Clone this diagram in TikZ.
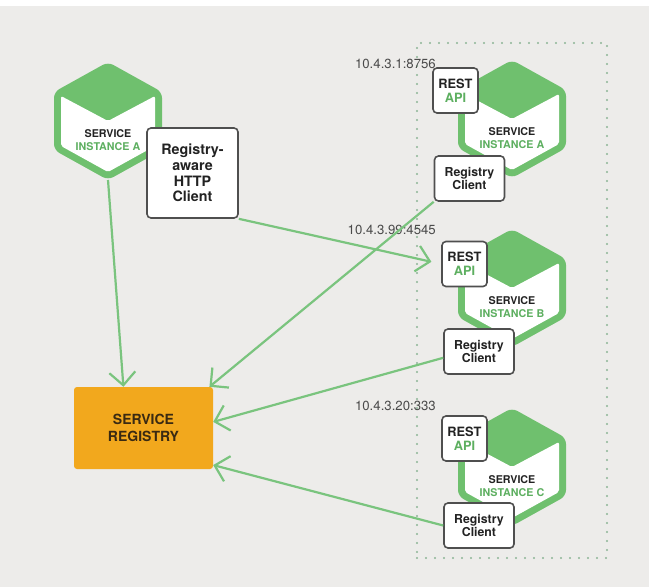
\documentclass[tikz,border=0pt]{standalone}
\usepackage{fontspec}
\setsansfont{TeX Gyre Heros}
\usetikzlibrary{arrows.meta, calc}
\definecolor{hexgreen}{HTML}{6FC06E}
\definecolor{txtgreen}{HTML}{5DAF60}
\definecolor{linegreen}{HTML}{7AC47E}
\definecolor{regorange}{HTML}{F2A81D}
\definecolor{regtext}{HTML}{3A2A12}
\definecolor{bggray}{HTML}{EDECEA}
\definecolor{boxgray}{HTML}{4F4F4F}
\definecolor{dotgray}{HTML}{8DB596}
\definecolor{inktext}{HTML}{222222}
\definecolor{iptext}{HTML}{4A4A4A}
\tikzset{
  font=\sffamily,
  card/.style={
    draw=boxgray, fill=white, line width=1.6pt,
    rounded corners=4pt, align=center, inner sep=0pt, text=inktext,
    font=\fontsize{12.3}{13}\selectfont\sffamily\bfseries
  },
  restbox/.style={card, minimum width=45pt, minimum height=45pt,
    font=\fontsize{12.8}{14}\selectfont\sffamily\bfseries},
  clientbox/.style={card, minimum width=70pt, minimum height=45pt},
  bigclient/.style={card, minimum width=91pt, minimum height=90pt,
    font=\fontsize{14.3}{15.8}\selectfont\sffamily\bfseries},
  regbox/.style={
    fill=regorange, rounded corners=3pt, align=center, text=regtext,
    minimum width=139pt, minimum height=82pt,
    font=\fontsize{14}{16.7}\selectfont\sffamily\bfseries
  },
  hexlabel/.style={align=center, inner sep=0pt, text=inktext,
    font=\fontsize{10.7}{13.3}\selectfont\sffamily\bfseries},
  iplabel/.style={anchor=east, inner sep=0pt, text=iptext,
    font=\fontsize{13.2}{14}\selectfont\sffamily},
  link/.style={draw=linegreen, line width=2.2pt,
    -{Straight Barb[length=13pt,width=26pt]}},
  hostgroup/.style={draw=dotgray, line width=2.4pt, line cap=round,
    dash pattern=on 0pt off 9pt, minimum width=190pt, minimum height=515pt}
}
% hexagon with service label: name, centre, instance letter
\newcommand{\svchex}[3]{%
  \begin{scope}[shift={(#2)}]
    \fill[hexgreen, rounded corners=6pt]
      (0,-59) -- (-54,-29) -- (-54,29) -- (0,59) -- (54,29) -- (54,-29) -- cycle;
    \fill[white, rounded corners=2pt]
      (-47,-25) -- (0,0) -- (47,-25) -- (47,25) -- (0,51) -- (-47,25) -- cycle;
    \node[hexlabel] (#1) at (0,19) {SERVICE\\\textcolor{txtgreen}{INSTANCE #3}};
    \coordinate (#1-bot) at (0,59);
  \end{scope}}

\begin{document}
\begin{tikzpicture}[x=1pt, y=-1pt]
  \useasboundingbox (0,0) rectangle (649,587);
  \fill[white] (0,0) rectangle (649,587);
  \fill[bggray] (0,6) rectangle (649,587);

  \node[hostgroup] (hosts) at (512,300.5) {};

  % services
  \svchex{hexL}{108,121}{A}
  \svchex{hexA}{512,119}{A}
  \svchex{hexB}{512,288}{B}
  \svchex{hexC}{512,467}{C}

  \node[bigclient] (httpclient) at (192.5,173) {Registry-\\aware\\HTTP\\Client};
  \node[regbox] (registry) at (143.5,428) {SERVICE\\REGISTRY};

  \node[restbox] (restA) at (455.5,90.5) {REST\\\textcolor{txtgreen}{API}};
  \node[restbox] (restB) at (464.5,264) {REST\\\textcolor{txtgreen}{API}};
  \node[restbox] (restC) at (464.5,438.5) {REST\\\textcolor{txtgreen}{API}};

  \node[clientbox] (rcA) at (469.5,178.5) {Registry\\Client};
  \node[clientbox] (rcB) at (479,351.5) {Registry\\Client};
  \node[clientbox] (rcC) at (479,525.5) {Registry\\Client};

  \node[iplabel] (ipA) at (436,64) {10.4.3.1:8756};
  \node[iplabel] (ipB) at (436,230) {10.4.3.99:4545};
  \node[iplabel] (ipC) at (436,406) {10.4.3.20:333};

  % lookups
  \draw[link] (hexL-bot) -- (registry.116);
  \draw[link, shorten >=10pt] (httpclient.south east) -- (restB.west);
  \draw[link] (rcA.south west) -- (registry.32);
  \draw[link] (rcB.190) -- (registry.5);
  \draw[link] (rcC.west) -- (registry.-28);
\end{tikzpicture}
\end{document}
